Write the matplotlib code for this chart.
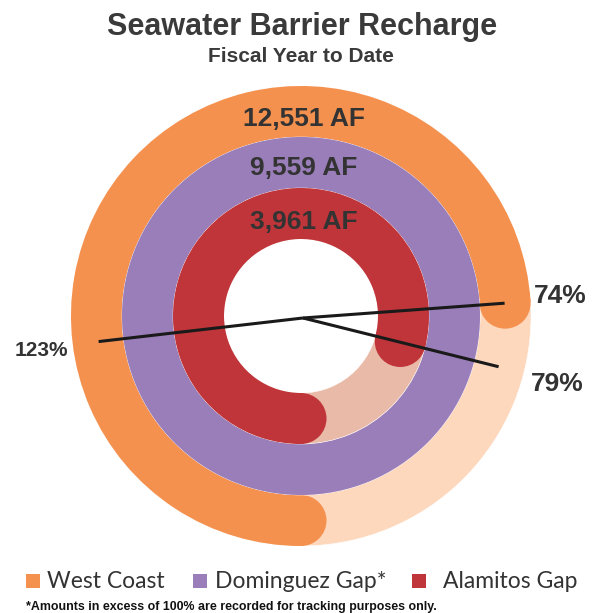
import numpy as np
import matplotlib
matplotlib.use("Agg")
import matplotlib.pyplot as plt
import matplotlib.patches as mpatches

# data
names = ["West Coast", "Dominguez Gap*", "Alamitos Gap"]
pct = [74, 123, 79]
af_labels = ["12,551 AF", "9,559 AF", "3,961 AF"]
colors = ["#F5914F", "#9A7EB9", "#C0353A"]
rest_colors = ["#FDD8BD", "#D9CBE5", "#E9BAA8"]

title = "Seawater Barrier Recharge"
subtitle = "Fiscal Year to Date"
footnote = "*Amounts in excess of 100% are recorded for tracking purposes only."

W, H = 596, 613
fig = plt.figure(figsize=(W / 100, H / 100), dpi=100)
ax = fig.add_axes((0, 0, 1, 1))
ax.set_xlim(0, W)
ax.set_ylim(H, 0)
ax.axis('off')

cx, cy = 301, 316
outer = [230, 179, 128]
width = 51
line_r = 204
txt = "#333333"

for i, p in enumerate(pct):
    r_out = outer[i]
    r_mid = r_out - width / 2
    sweep = p / 100 * 360
    # background ring (remaining share)
    ax.add_patch(mpatches.Wedge((cx, cy), r_out, 0, 360, width=width,
                                facecolor=rest_colors[i], edgecolor='white', lw=0.4))
    if sweep >= 360:
        ax.add_patch(mpatches.Wedge((cx, cy), r_out, 0, 360, width=width,
                                    facecolor=colors[i], edgecolor='none'))
    else:
        t1, t2 = 90, 90 + sweep
        ax.add_patch(mpatches.Wedge((cx, cy), r_out, t1, t2, width=width,
                                    facecolor=colors[i], edgecolor='none'))
        for t in (t1, t2):
            a = np.radians(t)
            ax.add_patch(mpatches.Circle((cx + r_mid * np.cos(a), cy + r_mid * np.sin(a)),
                                         width / 2, facecolor=colors[i], edgecolor='none'))

# pointer lines to the end of each arc
for p in pct:
    a = np.radians(90 + p / 100 * 360)
    ax.plot([cx + 2, cx + line_r * np.cos(a)], [cy + 2, cy + line_r * np.sin(a)],
            color="#1a1a1a", lw=2.2, solid_capstyle='butt', zorder=5)

# amount labels on top of each ring
af_y = [119, 168, 222]
for lab, y in zip(af_labels, af_y):
    ax.text(cx + 3, y, lab, ha='center', va='center', fontsize=19,
            fontweight='bold', color=txt, family='Liberation Sans')

# percent labels
pct_pos = [(560, 296, 19), (41, 351, 15), (557, 384, 19)]
for p, (x, y, fs) in zip(pct, pct_pos):
    ax.text(x, y, f"{p}%", ha='center', va='center', fontsize=fs,
            fontweight='bold', color=txt, family='Liberation Sans')

ax.text(302, 27, title, ha='center', va='center', fontsize=22,
        fontweight='bold', color="#3a3a3a", family='Liberation Sans')
ax.text(301, 57, subtitle, ha='center', va='center', fontsize=15,
        fontweight='bold', color="#3a3a3a", family='Liberation Sans')

# legend
sq_x = [26, 193, 412]
txt_x = [47, 215, 443]
for n, c, sx, tx in zip(names, colors, sq_x, txt_x):
    ax.add_patch(mpatches.Rectangle((sx, 574), 14, 14, facecolor=c, edgecolor='none'))
    ax.text(tx, 581, n, ha='left', va='center', fontsize=16.5, color="#333333",
            family='Lato')

ax.text(26, 607, footnote, ha='left', va='center', fontsize=8.9,
        fontweight='bold', color="#111111", family='Liberation Sans')

fig.savefig("out.png", dpi=100, facecolor='white')
